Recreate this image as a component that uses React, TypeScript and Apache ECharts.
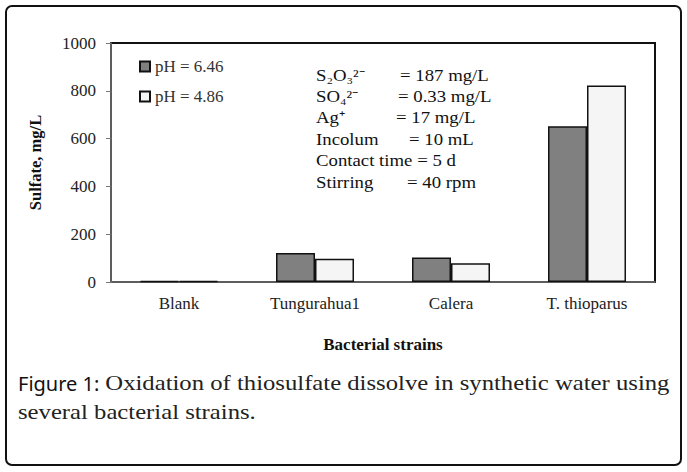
import React, { useEffect, useRef } from "react";
import * as echarts from "echarts";

const categories = ["Blank", "Tungurahua1", "Calera", "T. thioparus"];
const seriesNames = ["pH = 6.46", "pH = 4.86"];
const valuesPH646 = [4, 121, 102, 652];
const valuesPH486 = [4, 97, 78, 822];
const yTicks = [0, 200, 400, 600, 800, 1000];

const noteLabels = ["S₂O₃²⁻", "SO₄²⁻", "Ag⁺", "Incolum", "Contact time = 5 d", "Stirring"];
const noteValues = ["= 187 mg/L", "= 0.33 mg/L", "= 17 mg/L", "= 10 mL", "", "= 40 rpm"];
const noteValueX = [400, 398, 396, 409, 0, 407];

const captionLead = "Figure 1:";
const captionLine1 = "Oxidation of thiosulfate dissolve in synthetic water using";
const captionLine2 = "several bacterial strains.";

const SERIF = "Liberation Serif";
const SANS = "Noto Sans";

function measure(text: string, font: string): number {
  const ctx = document.createElement("canvas").getContext("2d");
  if (!ctx) return text.length * 8;
  ctx.font = font;
  return ctx.measureText(text).width;
}

export default function App() {
  const ref = useRef<HTMLDivElement>(null);
  useEffect(() => {
    if (!ref.current) return;
    const chart = echarts.init(ref.current, null, { renderer: "svg" });

    const noteSize = 16;
    const noteW = measure(noteLabels[4], `${noteSize}px "${SERIF}"`);
    const noteScale = noteW > 0 ? 140 / noteW : 1;
    const noteGraphics: any[] = [];
    noteLabels.forEach((t, i) => {
      const y = 75 + i * 21.4;
      noteGraphics.push({
        type: "text",
        x: 316,
        y,
        scaleX: noteScale,
        style: { text: t, fontFamily: SERIF, fontSize: noteSize, fill: "#111", textVerticalAlign: "middle" },
      });
      if (noteValues[i]) {
        noteGraphics.push({
          type: "text",
          x: noteValueX[i],
          y,
          scaleX: noteScale,
          style: { text: noteValues[i], fontFamily: SERIF, fontSize: noteSize, fill: "#111", textVerticalAlign: "middle" },
        });
      }
    });

    const capSize = 21;
    const leadSize = 20;
    const leadW = measure(captionLead, `${leadSize}px "${SANS}"`);
    const restX = 18 + leadW + 6;
    const restW = measure(captionLine1, `${capSize}px "${SERIF}"`);
    const capScale = restW > 0 ? (670 - restX) / restW : 1;

    chart.setOption({
      animation: false,
      backgroundColor: "#fff",
      grid: {
        left: 111,
        top: 43,
        right: 32,
        bottom: 190,
        show: true,
        borderColor: "#111",
        borderWidth: 2,
        backgroundColor: "transparent",
      },
      legend: {
        orient: "vertical",
        left: 134,
        top: 53,
        itemWidth: 10,
        itemHeight: 10,
        itemGap: 13,
        icon: "rect",
        data: seriesNames,
        textStyle: { fontFamily: SERIF, fontSize: 17, color: "#333" },
      },
      xAxis: {
        type: "category",
        data: categories,
        name: "Bacterial strains",
        nameLocation: "middle",
        nameGap: 54,
        nameTextStyle: { fontFamily: SERIF, fontSize: 17, fontWeight: "bold", color: "#111" },
        axisLine: { lineStyle: { color: "#777", width: 1.5 } },
        axisTick: { show: false },
        axisLabel: { fontFamily: SERIF, fontSize: 17, color: "#222", margin: 13 },
      },
      yAxis: {
        type: "value",
        min: yTicks[0],
        max: yTicks[yTicks.length - 1],
        interval: 200,
        name: "Sulfate, mg/L",
        nameLocation: "middle",
        nameGap: 67,
        nameTextStyle: { fontFamily: SERIF, fontSize: 16.5, fontWeight: "bold", color: "#111" },
        axisLine: { show: true, lineStyle: { color: "#777", width: 1.5 } },
        axisTick: { show: true, length: 5, lineStyle: { color: "#777" } },
        splitLine: { show: false },
        axisLabel: {
          fontFamily: SERIF,
          fontSize: 17,
          color: "#222",
          margin: 15,
          formatter: (v: number) => String(v),
        },
      },
      series: [
        {
          name: seriesNames[0],
          type: "bar",
          data: valuesPH646,
          barWidth: 39,
          barGap: "0%",
          itemStyle: { color: "#808080", borderColor: "#111", borderWidth: 1.5 },
        },
        {
          name: seriesNames[1],
          type: "bar",
          data: valuesPH486,
          barWidth: 39,
          barGap: "0%",
          itemStyle: { color: "#f5f5f5", borderColor: "#111", borderWidth: 1.5 },
        },
      ],
      graphic: [
        {
          type: "rect",
          shape: { x: 6, y: 6, width: 675, height: 459, r: 6 },
          style: { fill: "none", stroke: "#111", lineWidth: 2 },
          z: 10,
        },
        ...noteGraphics,
        {
          type: "text",
          x: 18,
          y: 383,
          style: {
            text: captionLead,
            fontFamily: SANS,
            fontSize: leadSize,
            fill: "#111",
            textVerticalAlign: "middle",
          },
        },
        {
          type: "text",
          x: restX,
          y: 383,
          scaleX: capScale,
          style: {
            text: captionLine1,
            fontFamily: SERIF,
            fontSize: capSize,
            fill: "#222",
            textVerticalAlign: "middle",
          },
        },
        {
          type: "text",
          x: 18,
          y: 412,
          scaleX: capScale,
          style: {
            text: captionLine2,
            fontFamily: SERIF,
            fontSize: capSize,
            fill: "#222",
            textVerticalAlign: "middle",
          },
        },
      ],
    });
    return () => chart.dispose();
  }, []);
  return (
    <div
      ref={ref}
      style={{ position: "fixed", left: 0, top: 0, width: 687, height: 472 }}
    />
  );
}
